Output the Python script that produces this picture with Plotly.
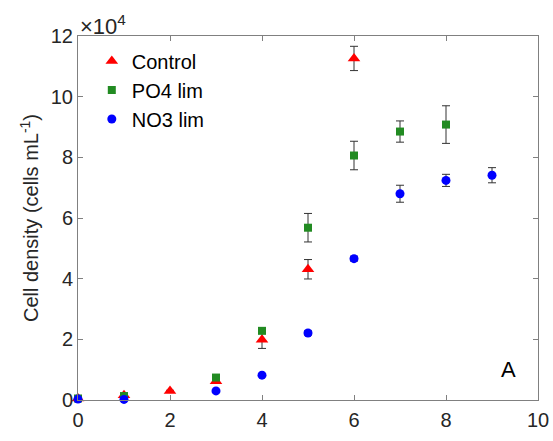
import plotly.graph_objects as go

days = [0, 1, 2, 3, 4, 5, 6, 7, 8, 9]

ctrl_x = [0, 1, 2, 3, 4, 5, 6]
ctrl_y = [500, 1600, 3000, 6200, 19900, 43100, 112600]
ctrl_e = [100, 200, 200, 400, 2900, 3200, 4000]

po4_x = [0, 1, 3, 4, 5, 6, 7, 8]
po4_y = [500, 1300, 7400, 22800, 56800, 80600, 88500, 90800]
po4_e = [100, 300, 600, 700, 4700, 4700, 3500, 6200]

no3_x = [0, 1, 3, 4, 5, 6, 7, 8, 9]
no3_y = [300, 200, 3000, 8200, 22100, 46600, 68000, 72400, 74100]
no3_e = [100, 100, 200, 300, 700, 800, 2800, 2000, 2500]

names = ["Control", "PO4 lim", "NO3 lim"]
colors = ["#ff0000", "#228b22", "#0000ff"]
symbols = ["triangle-up", "square", "circle"]
sizes = [11, 8, 9]

FONT = "Liberation Sans, Arial"

fig = go.Figure()
for (xs, ys, es), nm, c, s, sz in zip(
    [(ctrl_x, ctrl_y, ctrl_e), (po4_x, po4_y, po4_e), (no3_x, no3_y, no3_e)],
    names, colors, symbols, sizes):
    fig.add_trace(go.Scatter(
        x=xs, y=[v / 1e4 for v in ys], mode="markers", name=nm, cliponaxis=False,
        marker=dict(color=c, symbol=s, size=sz, line=dict(width=0)),
        error_y=dict(type="data", array=[v / 1e4 for v in es], color="#333333",
                     thickness=1, width=4),
    ))

axis_common = dict(
    showgrid=False, zeroline=False, showline=True, linecolor="#808080", linewidth=1,
    mirror="ticks", ticks="inside", ticklen=5, tickcolor="#808080", automargin=False,
    tickfont=dict(family=FONT, size=20, color="#262626"),
)
fig.update_xaxes(range=[0, 10], dtick=2, ticklabelstandoff=2, **axis_common)
fig.update_yaxes(range=[0, 12], dtick=2, **axis_common,
                 title=dict(text="Cell density (cells mL<sup>-1</sup>)",
                            font=dict(family=FONT, size=20, color="#262626"),
                            standoff=6))

fig.add_annotation(x=0, y=1, xref="paper", yref="paper", xanchor="left", yanchor="bottom",
                   text="×10<sup>4</sup>", showarrow=False, xshift=0, yshift=-5,
                   font=dict(family=FONT, size=22, color="#262626"))
fig.add_annotation(x=9.35, y=1.0, text="A", showarrow=False,
                   font=dict(family=FONT, size=22, color="#000000"))

fig.update_layout(
    width=553, height=441,
    margin=dict(l=78, r=15, t=36, b=41),
    plot_bgcolor="white", paper_bgcolor="white",
    showlegend=True,
    legend=dict(x=0.03, y=0.985, xanchor="left", yanchor="top",
                bgcolor="rgba(0,0,0,0)", borderwidth=0,
                font=dict(family=FONT, size=20, color="#000000"),
                itemsizing="trace", itemwidth=30, tracegroupgap=6),
)

fig.write_html("out.html")
